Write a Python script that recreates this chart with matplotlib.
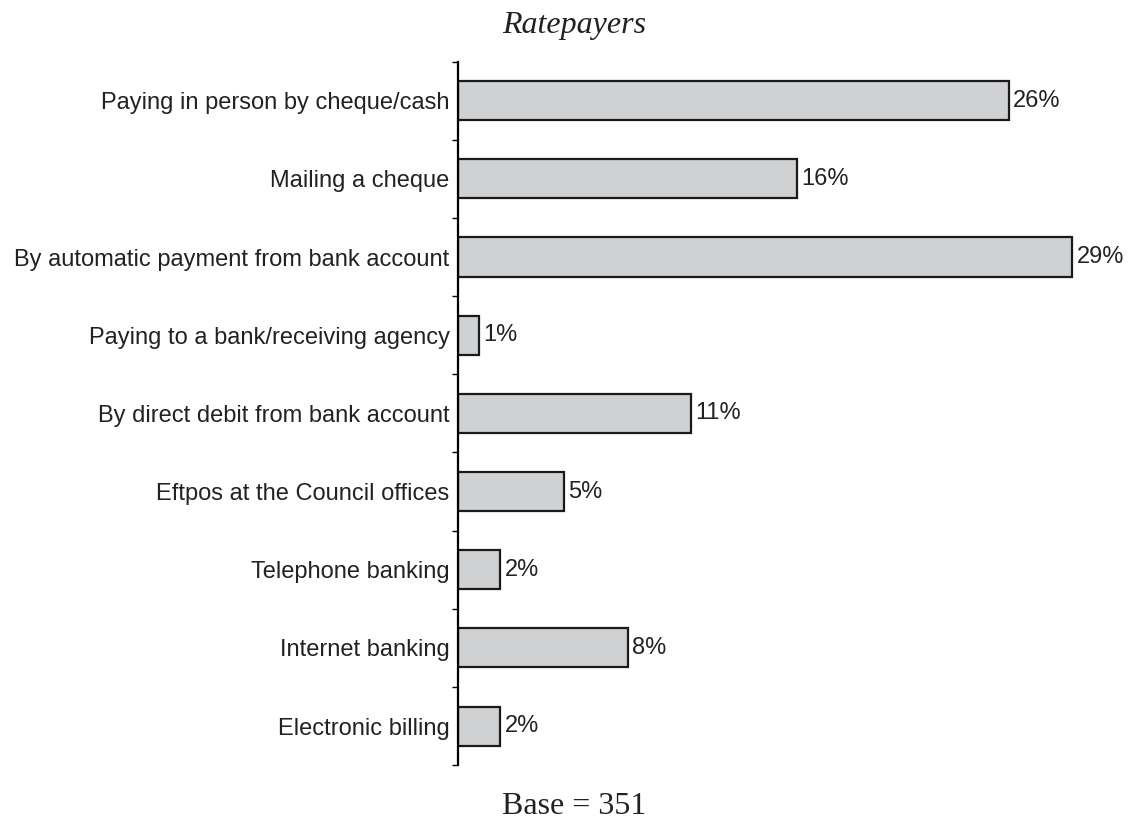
import numpy as np
import matplotlib.pyplot as plt

# payment methods, top to bottom
methods = [
    "Paying in person by cheque/cash",
    "Mailing a cheque",
    "By automatic payment from bank account",
    "Paying to a bank/receiving agency",
    "By direct debit from bank account",
    "Eftpos at the Council offices",
    "Telephone banking",
    "Internet banking",
    "Electronic billing",
]
percent = [26, 16, 29, 1, 11, 5, 2, 8, 2]
base_n = 351

fig = plt.figure(figsize=(11.31, 8.21), dpi=100)
ax = fig.add_axes([0.405, 0.068, 0.562, 0.857])

y = np.arange(len(methods))
ax.barh(y, percent, height=0.5, color="#d0d1d3", edgecolor="#1a1a1a", linewidth=1.6)

for yi, v in zip(y, percent):
    ax.text(v + 0.2, yi, f"{v}%", va="center", ha="left",
            fontsize=17, family="Liberation Sans", color="#222222", clip_on=False)

ax.set_ylim(len(methods) - 0.5, -0.5)
ax.set_xlim(0, 30)

ax.set_yticks(y)
ax.set_yticklabels(methods, fontsize=17, family="Liberation Sans", color="#222222")
ax.tick_params(axis="y", which="major", length=0, pad=6)
ax.set_yticks(np.arange(-0.5, len(methods), 1.0), minor=True)
ax.tick_params(axis="y", which="minor", length=4, width=1.0, direction="out")

ax.set_xticks([])
for side in ["top", "right", "bottom"]:
    ax.spines[side].set_visible(False)
ax.spines["left"].set_linewidth(1.6)

fig.text(0.508, 0.96, "Ratepayers", ha="center", va="baseline",
         fontsize=23, style="italic", family="Liberation Serif", color="#222222")
fig.text(0.508, 0.008, f"Base = {base_n}", ha="center", va="baseline",
         fontsize=23, family="Liberation Serif", color="#222222")

fig.savefig("out.png", dpi=100)
